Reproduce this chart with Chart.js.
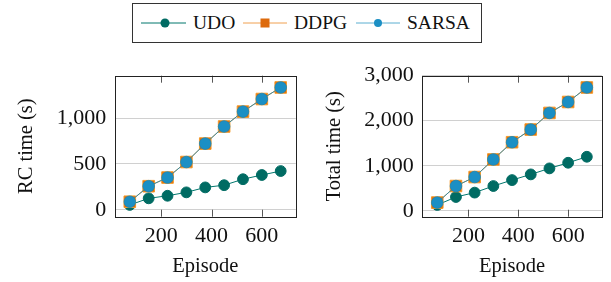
<!DOCTYPE html>
<html>
<head>
<meta charset="utf-8">
<script src="https://cdn.jsdelivr.net/npm/chart.js@4"></script>
<style>
body{margin:0;background:#fff;width:611px;height:282px;position:relative;overflow:hidden;font-family:"Liberation Serif",serif;color:#111}
#legend{position:absolute;left:132px;top:3px;width:350px;height:40px;border:1px solid #333;box-sizing:border-box}
.it{position:absolute;top:0;height:38px;display:flex;align-items:center;font-size:19.5px}
.it svg{margin-right:7px}
canvas{position:absolute;top:50px}
</style>
</head>
<body>
<div id="legend">
  <div class="it" style="left:8px"><svg width="45" height="14"><line x1="0" y1="7" x2="45" y2="7" stroke="#00776d" stroke-width="1"/><circle cx="24" cy="7" r="4.5" fill="#006b63"/></svg>UDO</div>
  <div class="it" style="left:110px"><svg width="44" height="14"><line x1="0" y1="7" x2="44" y2="7" stroke="#f0a050" stroke-width="1"/><rect x="17.5" y="2.5" width="9" height="9" fill="#dd6a0c"/></svg>DDPG</div>
  <div class="it" style="left:223px"><svg width="44" height="14"><line x1="0" y1="7" x2="44" y2="7" stroke="#5aaed0" stroke-width="1"/><circle cx="22" cy="7" r="4" fill="#1b8fc4"/></svg>SARSA</div>
</div>
<canvas id="c1" width="305" height="232" style="left:0"></canvas>
<canvas id="c2" width="306" height="232" style="left:305px"></canvas>
<script>
// episodes (x)
const episodes = [75, 150, 225, 300, 375, 450, 525, 600, 675];
const xTicks = [200, 400, 600];

// RC time (s)
const rcUDO   = [54, 126, 154, 191, 245, 269, 334, 380, 423];
const rcDDPG  = [89, 258, 352, 521, 722, 908, 1070, 1207, 1333];
const rcSARSA = [89, 258, 352, 521, 722, 908, 1070, 1207, 1333];
const rcTicks = [0, 500, 1000];

// Total time (s)
const totUDO   = [132, 309, 406, 552, 684, 810, 943, 1068, 1201];
const totDDPG  = [185, 552, 751, 1141, 1523, 1804, 2172, 2415, 2737];
const totSARSA = [185, 552, 751, 1141, 1523, 1804, 2172, 2415, 2737];
const totTicks = [0, 1000, 2000, 3000];

const FONT = '"Liberation Serif", serif';

const frame = {
  id: 'frame',
  beforeDatasetsDraw(chart) {
    const a = chart.chartArea, ctx = chart.ctx, x = chart.scales.x;
    ctx.save();
    ctx.strokeStyle = '#444';
    ctx.lineWidth = 0.9;
    xTicks.forEach(function (v) {
      const p = Math.round(x.getPixelForValue(v)) + 0.5;
      ctx.beginPath();
      ctx.moveTo(p, a.top); ctx.lineTo(p, a.top + 7);
      ctx.moveTo(p, a.bottom); ctx.lineTo(p, a.bottom - 7);
      ctx.stroke();
    });
    ctx.strokeStyle = '#222';
    ctx.lineWidth = 1;
    ctx.strokeRect(Math.round(a.left) + 0.5, Math.round(a.top) + 0.5, Math.round(a.right - a.left), Math.round(a.bottom - a.top));
    ctx.restore();
  }
};

function pts(ys) {
  return episodes.map(function (e, i) { return {x: e, y: ys[i]}; });
}

function make(id, udo, ddpg, sarsa, yMin, yMax, yTicks, yTitle, yw, titlePad, padRight) {
  new Chart(document.getElementById(id), {
    type: 'line',
    data: {
      datasets: [
        {label: 'UDO', data: pts(udo), borderColor: '#00776d', backgroundColor: '#006b63', pointBackgroundColor: '#006b63', pointBorderColor: '#006b63', borderWidth: 1, pointRadius: 5.4, pointStyle: 'circle', order: 2},
        {label: 'DDPG', data: pts(ddpg), borderColor: '#f0a050', backgroundColor: '#dd6a0c', pointBackgroundColor: '#dd6a0c', pointBorderColor: '#f39a2a', borderWidth: 1, pointBorderWidth: 1, pointRadius: 8.2, pointStyle: 'rect', order: 1},
        {label: 'SARSA', data: pts(sarsa), borderColor: '#3a8a9c', backgroundColor: '#1b8fc4', pointBackgroundColor: '#1b8fc4', pointBorderColor: '#1886b8', borderWidth: 1, pointBorderWidth: 0.8, pointRadius: 5.8, pointStyle: 'circle', order: 0}
      ]
    },
    options: {
      responsive: false,
      animation: false,
      layout: {padding: {top: 25.7, right: padRight, left: 0, bottom: 0}},
      plugins: {legend: {display: false}, tooltip: {enabled: false}},
      scales: {
        x: {
          type: 'linear', min: 15, max: 735,
          afterBuildTicks: function (s) { s.ticks = xTicks.map(function (v) { return {value: v}; }); },
          afterFit: function (s) { s.height = 65.3; },
          grid: {display: false},
          border: {display: false},
          ticks: {color: '#111', padding: -2, font: {family: FONT, size: 22}},
          title: {display: true, text: 'Episode', color: '#111', padding: {top: 3, bottom: 3}, font: {family: FONT, size: 20.5}}
        },
        y: {
          type: 'linear', min: yMin, max: yMax,
          afterBuildTicks: function (s) { s.ticks = yTicks.map(function (v) { return {value: v}; }); },
          afterFit: function (s) { s.width = yw; },
          grid: {color: '#c4c4c4', lineWidth: 0.8, drawTicks: false},
          border: {display: false},
          ticks: {color: '#111', padding: 8.5, font: {family: FONT, size: 22}},
          title: {display: true, text: yTitle, color: '#111', padding: {top: titlePad, bottom: titlePad}, font: {family: FONT, size: 20.5}}
        }
      }
    },
    plugins: [frame]
  });
}

make('c1', rcUDO, rcDDPG, rcSARSA, -74, 1461, rcTicks, 'RC time (s)', 114.7, 14.6, 8);
make('c2', totUDO, totDDPG, totSARSA, -128, 2998, totTicks, 'Total time (s)', 117.3, 16.9, 7);
</script>
</body>
</html>
